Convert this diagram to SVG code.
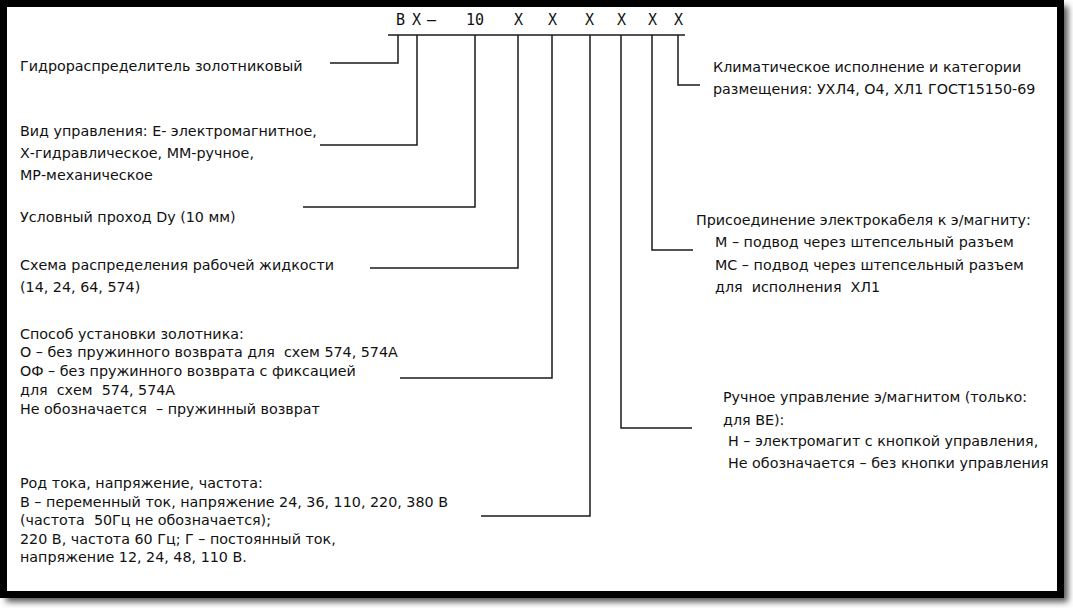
<svg xmlns="http://www.w3.org/2000/svg" width="1073" height="608" viewBox="0 0 1073 608">
<defs>
<filter id="sh" x="-5%" y="-5%" width="110%" height="110%"><feGaussianBlur stdDeviation="3"/></filter>
<style>
.t{font-family:"DejaVu Sans","Liberation Sans",sans-serif;font-size:14.3px;fill:#111;white-space:pre}
.h{font-family:"DejaVu Sans Mono","Liberation Mono",monospace;font-size:15px;fill:#111}
.c{fill:none;stroke:#1a1a1a;stroke-width:1.5}
</style>
</defs>
<rect x="0" y="0" width="1073" height="608" fill="#fff"/>
<rect x="6" y="6" width="1062" height="596" fill="#555" filter="url(#sh)"/>
<rect x="3.5" y="3.5" width="1057" height="591" fill="#fff" stroke="#000" stroke-width="7"/>
<g id="code">
<text class="h" y="25"><tspan x="396">В</tspan><tspan x="412">Х</tspan><tspan x="427">–</tspan><tspan x="466">10</tspan><tspan x="514">Х</tspan><tspan x="548">Х</tspan><tspan x="585">Х</tspan><tspan x="617">Х</tspan><tspan x="648">Х</tspan><tspan x="674">Х</tspan></text>
</g>
<g id="connectors">
<path class="c" d="M388,35H685"/>
<path class="c" d="M398,35V63H330"/>
<path class="c" d="M417,35V145H320"/>
<path class="c" d="M475,35V207H303"/>
<path class="c" d="M518,35V268H370"/>
<path class="c" d="M552,35V378H400"/>
<path class="c" d="M590,35V516H481"/>
<path class="c" d="M621,35V428H692"/>
<path class="c" d="M652,35V250H693"/>
<path class="c" d="M678,35V85H700"/>
</g>
<g id="n1"><text class="t" x="20" y="71">Гидрораспределитель золотниковый</text></g>
<g id="n2"><text class="t" x="20" y="136">Вид управления: Е- электромагнитное,</text><text class="t" x="20" y="158">Х-гидравлическое, ММ-ручное,</text><text class="t" x="20" y="180">МР-механическое</text></g>
<g id="n3"><text class="t" x="20" y="222">Условный проход Dу (10 мм)</text></g>
<g id="n4"><text class="t" x="20" y="270">Схема распределения рабочей жидкости</text><text class="t" x="20" y="292">(14, 24, 64, 574)</text></g>
<g id="n5"><text class="t" x="20" y="339">Способ установки золотника:</text><text class="t" x="20" y="357">О – без пружинного возврата для  схем 574, 574А</text><text class="t" x="20" y="376">ОФ – без пружинного возврата с фиксацией</text><text class="t" x="20" y="395">для  схем  574, 574А</text><text class="t" x="20" y="414">Не обозначается  – пружинный возврат</text></g>
<g id="n6"><text class="t" x="20" y="488">Род тока, напряжение, частота:</text><text class="t" x="20" y="507">В – переменный ток, напряжение 24, 36, 110, 220, 380 В</text><text class="t" x="20" y="525">(частота  50Гц не обозначается);</text><text class="t" x="20" y="544">220 В, частота 60 Гц; Г – постоянный ток,</text><text class="t" x="20" y="562">напряжение 12, 24, 48, 110 В.</text></g>
<g id="n7"><text class="t" x="713" y="72">Климатическое исполнение и категории</text><text class="t" x="713" y="94">размещения: УХЛ4, О4, ХЛ1 ГОСТ15150-69</text></g>
<g id="n8"><text class="t" x="696" y="225">Присоединение электрокабеля к э/магниту:</text><text class="t" x="715" y="247">М – подвод через штепсельный разъем</text><text class="t" x="715" y="270">МС – подвод через штепсельный разъем</text><text class="t" x="715" y="292">для  исполнения  ХЛ1</text></g>
<g id="n9"><text class="t" x="723" y="402">Ручное управление э/магнитом (только:</text><text class="t" x="723" y="425">для ВЕ):</text><text class="t" x="728" y="446">Н – электромагит с кнопкой управления,</text><text class="t" x="728" y="468">Не обозначается – без кнопки управления</text></g>
</svg>
